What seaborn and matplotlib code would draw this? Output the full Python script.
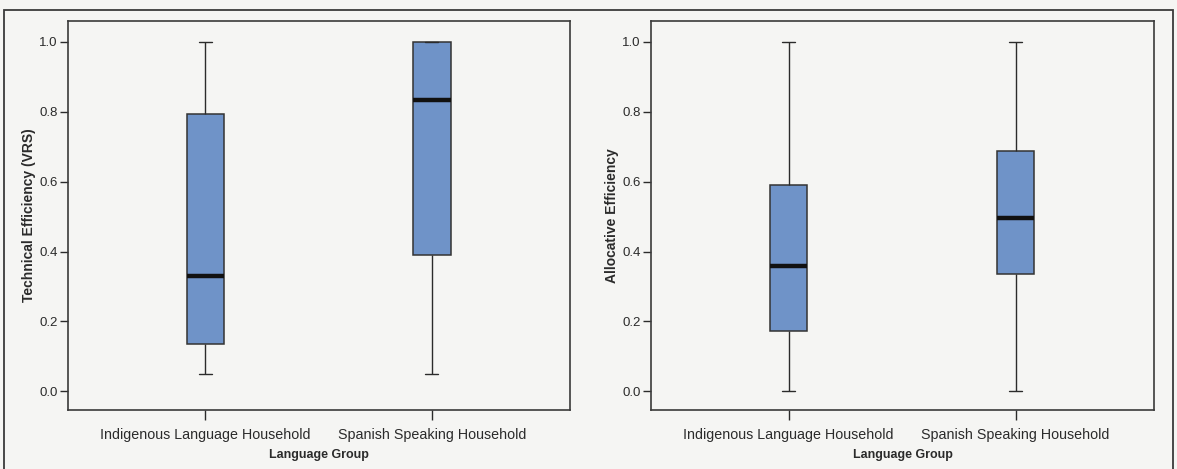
import numpy as np
import pandas as pd
import matplotlib
matplotlib.use("Agg")
import matplotlib.pyplot as plt
import seaborn as sns
from matplotlib.patches import Rectangle

# Language groups on the x axis
groups = ["Indigenous Language Household", "Spanish Speaking Household"]

# Five-number summaries (min, Q1, median, Q3, max) for each group
te_indigenous = [0.05, 0.137, 0.331, 0.792, 1.0]
te_spanish = [0.05, 0.391, 0.834, 1.0, 1.0]
ae_indigenous = [0.0, 0.172, 0.358, 0.590, 1.0]
ae_spanish = [0.0, 0.336, 0.496, 0.687, 1.0]

yticks = [0.0, 0.2, 0.4, 0.6, 0.8, 1.0]

panels = [
    ("Technical Efficiency (VRS)", [te_indigenous, te_spanish]),
    ("Allocative Efficiency", [ae_indigenous, ae_spanish]),
]

sns.set_theme(style="white")
plt.rcParams["font.family"] = ["Liberation Sans", "DejaVu Sans"]

bg = "#f5f5f3"
ink = "#2b2b2b"
box_fill = "#6f93c8"

fig = plt.figure(figsize=(11.77, 4.69), dpi=100, facecolor=bg)
W, H = 1177, 469

# Outer frame around both panels
fig.patches.append(Rectangle((4 / W, -0.05), (1173 - 4) / W, 1.05 - 10 / H,
                             transform=fig.transFigure, fill=False,
                             edgecolor="#3a3a3a", linewidth=1.3))

axes_px = [(68, 570), (651, 1154)]
top_px, bot_px = 21, 410

for (ylabel, stats), (x0, x1) in zip(panels, axes_px):
    ax = fig.add_axes([x0 / W, 1 - bot_px / H, (x1 - x0) / W, (bot_px - top_px) / H])
    ax.set_facecolor(bg)
    df = pd.DataFrame({
        "group": np.repeat(groups, [len(s) for s in stats]),
        "value": np.concatenate(stats),
    })
    sns.boxplot(data=df, x="group", y="value", order=groups, ax=ax,
                width=0.165, whis=(0, 100), color=box_fill, saturation=1,
                linecolor=ink, linewidth=1.0, showfliers=False,
                medianprops=dict(color="#111111", linewidth=3.2),
                boxprops=dict(facecolor=box_fill, edgecolor="#333333", linewidth=1.1),
                whiskerprops=dict(color=ink, linewidth=1.0),
                capprops=dict(color=ink, linewidth=1.0))
    # Narrower whisker caps
    for line in ax.lines:
        xd = np.asarray(line.get_xdata(), dtype=float)
        yd = np.asarray(line.get_ydata(), dtype=float)
        if len(xd) == 2 and yd[0] == yd[1] and line.get_linewidth() < 2:
            c = xd.mean()
            half = (xd[1] - xd[0]) / 2
            if abs(half) < 0.1:
                line.set_xdata([c - half * 0.7, c + half * 0.7])
    ax.set_xlim(-0.607, 1.61)
    ax.set_ylim(-0.053, 1.059)
    ax.set_yticks(yticks)
    ax.set_yticklabels([f"{t:.1f}" for t in yticks])
    for s in ax.spines.values():
        s.set_color("#3a3a3a")
        s.set_linewidth(1.2)
    ax.tick_params(axis="y", left=True, length=6, width=1.0, color=ink,
                   labelsize=9.5, labelcolor=ink, pad=1.5)
    ax.tick_params(axis="x", bottom=True, length=7, width=1.0, color=ink,
                   labelsize=10.3, labelcolor=ink, pad=6)
    ax.set_xlabel("Language Group", fontsize=9, fontweight="bold", color=ink, labelpad=5)
    ax.set_ylabel(ylabel, fontsize=10, fontweight="bold", color=ink, labelpad=2)

fig.savefig("out.png", dpi=100, facecolor=bg)
